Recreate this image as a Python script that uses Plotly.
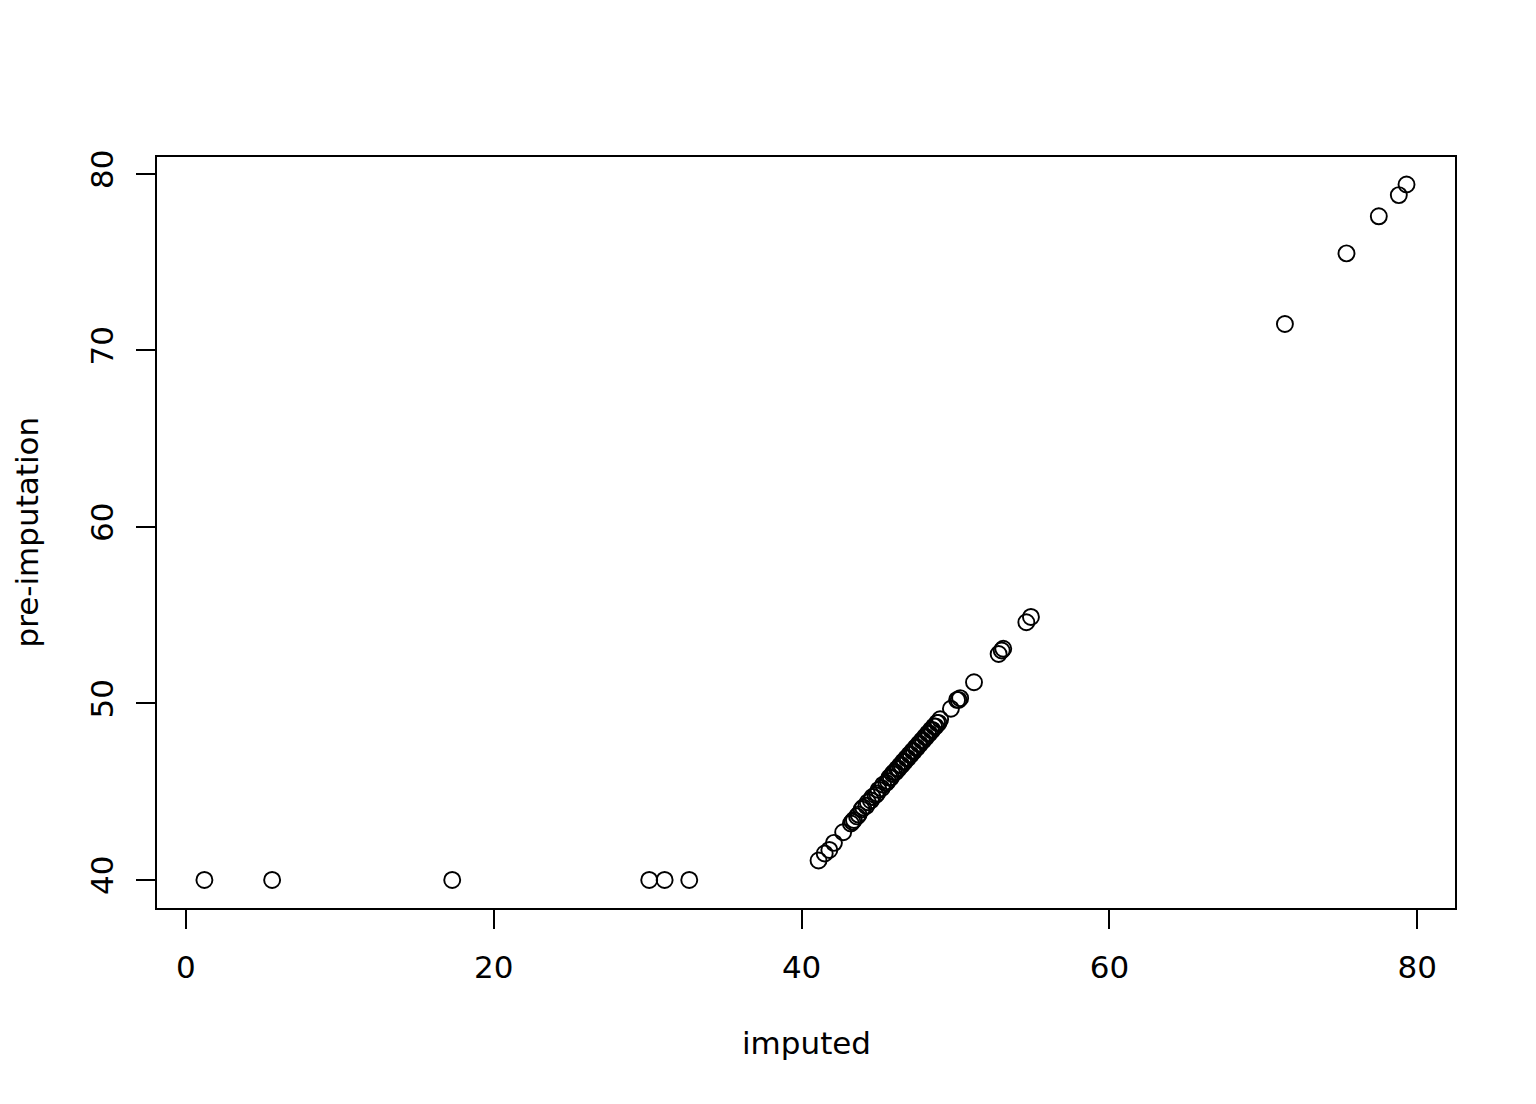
import plotly.graph_objects as go

# values (imputed vs pre-imputation)
imputed = [
    1.2, 5.6, 17.3, 30.1, 31.1, 32.7,
    41.1, 41.5, 41.8, 42.1, 42.7, 43.2, 43.3, 43.4, 43.6, 43.7,
    43.9, 44.0, 44.2, 44.3, 44.5, 44.6, 44.8, 44.9, 45.0, 45.2,
    45.3, 45.5, 45.6, 45.7, 45.8, 45.9, 46.0, 46.1, 46.2, 46.3,
    46.4, 46.5, 46.6, 46.7, 46.8, 46.9, 47.0, 47.1, 47.2, 47.3,
    47.4, 47.5, 47.6, 47.7, 47.8, 47.9, 48.0, 48.1, 48.2, 48.3,
    48.4, 48.5, 48.6, 48.7, 48.8, 48.9, 49.0, 49.7, 50.1, 50.2,
    50.3, 51.2, 52.8, 53.0, 53.1, 54.6, 54.9,
    71.4, 75.4, 77.5, 78.8, 79.3,
]
pre_imputation = [
    40.0, 40.0, 40.0, 40.0, 40.0, 40.0,
    41.1, 41.5, 41.7, 42.1, 42.7, 43.2, 43.3, 43.4, 43.6, 43.7,
    44.0, 44.1, 44.2, 44.4, 44.5, 44.7, 44.8, 44.9, 45.1, 45.2,
    45.4, 45.5, 45.6, 45.8, 45.8, 46.0, 46.1, 46.1, 46.3, 46.3,
    46.5, 46.5, 46.7, 46.7, 46.9, 46.9, 47.1, 47.1, 47.3, 47.3,
    47.5, 47.5, 47.7, 47.7, 47.9, 47.9, 48.1, 48.1, 48.3, 48.3,
    48.5, 48.5, 48.7, 48.7, 48.9, 48.9, 49.1, 49.7, 50.2, 50.2,
    50.3, 51.2, 52.8, 53.0, 53.1, 54.6, 54.9,
    71.5, 75.5, 77.6, 78.8, 79.4,
]
x_ticks = [0, 20, 40, 60, 80]
y_ticks = [40, 50, 60, 70, 80]

FONT = "DejaVu Sans, Liberation Sans, Arial"

fig = go.Figure()
fig.add_trace(go.Scatter(
    x=imputed,
    y=pre_imputation,
    mode="markers",
    marker=dict(symbol="circle-open", size=16, color="black", line=dict(width=1.9, color="black")),
    showlegend=False,
    hoverinfo="x+y",
))

axis_common = dict(
    showgrid=False,
    zeroline=False,
    showline=True,
    mirror=True,
    linecolor="black",
    linewidth=1.7,
    ticks="outside",
    ticklen=19,
    tickwidth=1.7,
    tickcolor="black",
    tickfont=dict(family=FONT, size=31, color="black"),
)

# the page puts the figure 8px in from the top-left corner
fig.update_layout(
    width=1528,
    height=1096,
    paper_bgcolor="white",
    plot_bgcolor="white",
    margin=dict(l=149, r=81, t=149, b=196),
    font=dict(family=FONT, color="black"),
    xaxis=dict(axis_common, range=[-1.88, 82.45], tickvals=x_ticks, ticklabelstandoff=12),
    yaxis=dict(axis_common, range=[38.41, 80.96], tickvals=y_ticks, tickangle=-90, ticklabelstandoff=11),
    annotations=[
        dict(text="imputed", xref="paper", yref="paper", x=0.5, y=0, yshift=-135,
             showarrow=False, xanchor="center", yanchor="middle",
             font=dict(family=FONT, size=31, color="black")),
        dict(text="pre-imputation", xref="paper", yref="paper", x=0, y=0.5, xshift=-131,
             showarrow=False, xanchor="center", yanchor="middle", textangle=-90,
             font=dict(family=FONT, size=31, color="black")),
    ],
)

fig.write_html("out.html")
